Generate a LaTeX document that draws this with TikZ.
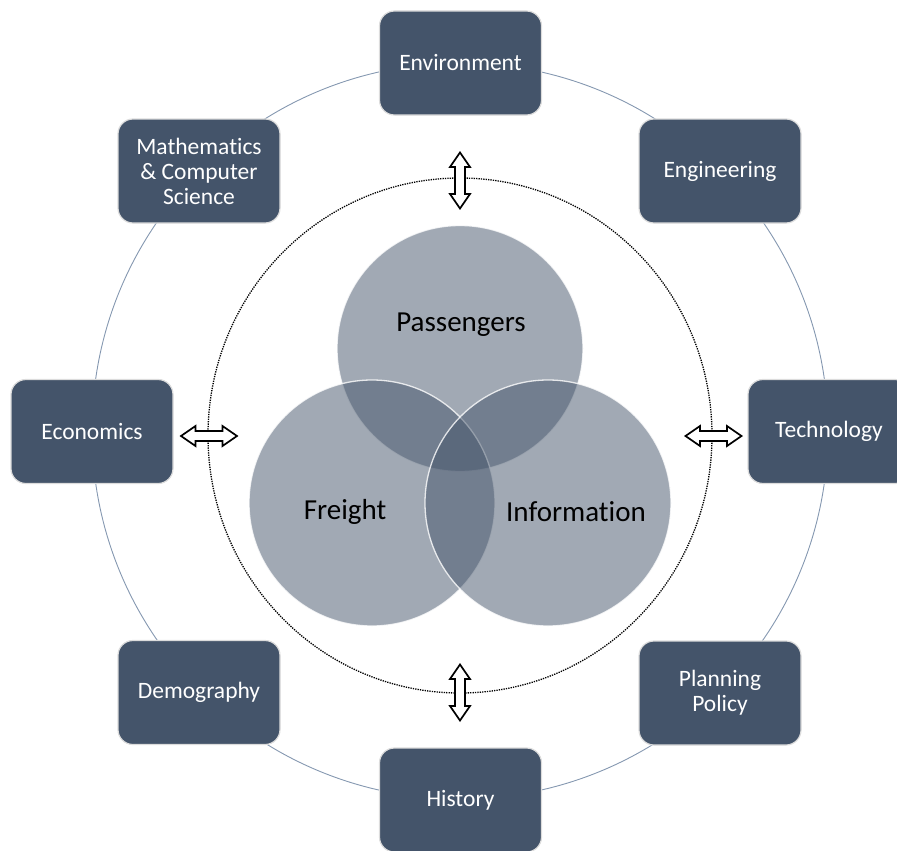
\documentclass[tikz,border=0pt]{standalone}
\usepackage{fontspec}
\setmainfont{Carlito}[Ligatures=NoCommon]
\definecolor{boxblue}{HTML}{44546A}
\definecolor{ringcol}{HTML}{8497B0}
\definecolor{boxedge}{HTML}{DCDCDC}
\begin{document}
\begin{tikzpicture}[x=1pt,y=-1pt,
  topic/.style={rectangle, rounded corners=15pt, fill=boxblue, draw=boxedge, line width=1.2pt,
    minimum width=162pt, minimum height=104pt, inner sep=2pt, text=white, align=center,
    font=\fontsize{23.5}{25}\selectfont},
  venn/.style={circle, minimum size=246pt, inner sep=0pt, fill=boxblue, fill opacity=0.5,
    draw=white, draw opacity=0.8, line width=1.3pt},
  vennlabel/.style={text=black, font=\fontsize{29}{30}\selectfont, inner sep=0pt},
  arrowline/.style={draw=black, fill=white, line width=1.7pt, line join=miter},
  hollowarrow/.pic={\path[arrowline] (0,-28) -- (10,-13.5) -- (5,-13.5) -- (5,13.5) -- (10,13.5)
      -- (0,28) -- (-10,13.5) -- (-5,13.5) -- (-5,-13.5) -- (-10,-13.5) -- cycle;}
]
\useasboundingbox (0,0) rectangle (897,851);
\clip (0,0) rectangle (897,851);
% outer ring
\coordinate (ringc) at (460,431);
\draw[ringcol, line width=0.9pt] (ringc) circle (368);
% dotted ring
\coordinate (dotc) at (460,435.5);
\draw[black, line width=1.3pt, dash pattern=on 1.3pt off 1.1pt] (dotc) ellipse (252 and 257.5);
% topic boxes
\node[topic] (env)  at (460.5,63)  {Environment};
\node[topic] (eng)  at (720,171)   {Engineering};
\node[topic] (math) at (199,171)   {Mathematics\\\& Computer\\Science};
\node[topic] (eco)  at (92,431.5)  {Economics};
\node[topic] (tech) at (829,431.5) {Technology};
\node[topic] (demo) at (199,692.5) {Demography};
\node[topic] (plan) at (720,693)   {Planning\\Policy};
\node[topic] (hist) at (460.5,800) {History};
% Venn circles
\node[venn] (pass) at (460,348.5) {};
\node[venn] (frei) at (372,503) {};
\node[venn] (info) at (548,503) {};
\node[vennlabel] (passl) at (461,325) {Passengers};
\node[vennlabel] (freil) at (345,512) {Freight};
\node[vennlabel] (infol) at (576,512) {Information};
% hollow double arrows
\pic at (460,180.5) {hollowarrow};
\pic at (460,692.5) {hollowarrow};
\pic[rotate=90] at (209,436) {hollowarrow};
\pic[rotate=90] at (713.5,436) {hollowarrow};
\end{tikzpicture}
\end{document}
